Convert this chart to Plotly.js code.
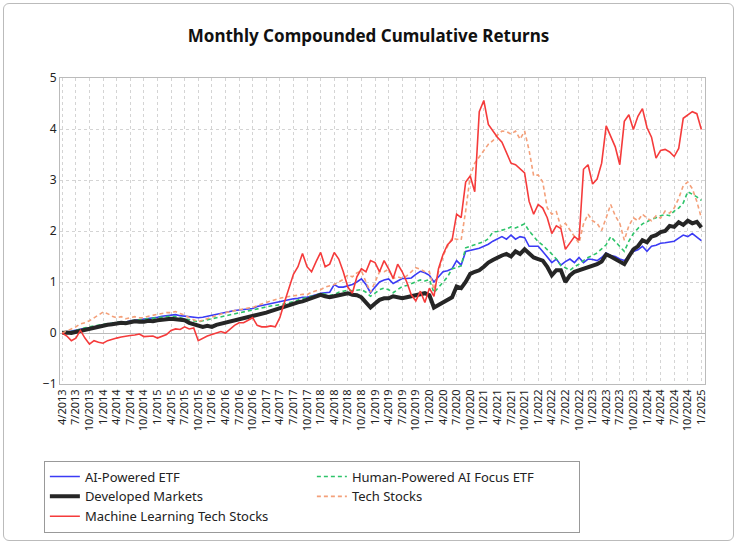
<!DOCTYPE html>
<html><head><meta charset="utf-8">
<script src="https://cdn.plot.ly/plotly-3.0.1.min.js"></script>
<style>body{margin:0;background:#fff}#c{width:737px;height:544px}
#f{position:absolute;left:3px;top:3px;width:729px;height:536px;border:1px solid #bbb;border-radius:6px;pointer-events:none}</style>
</head><body><div id="c"></div><div id="f"></div>
<script>
const startMonth = 4, startYear = 2013, nMonths = 142;
const months = [];
for (let i = 0; i < nMonths; i++) { const m = (startMonth - 1 + i) % 12 + 1; const y = startYear + Math.floor((startMonth - 1 + i) / 12); months.push(m + "/" + y); }
const tickLabels = months.filter((_, i) => i % 3 === 0);

const aiPowered = [0,0.02,0.03,0.05,0.07,0.09,0.1,0.12,0.14,0.16,0.18,0.19,
0.2,0.22,0.21,0.24,0.25,0.26,0.27,0.28,0.3,0.31,0.33,0.34,
0.35,0.36,0.34,0.33,0.31,0.3,0.3,0.31,0.33,0.34,0.37,0.38,
0.4,0.42,0.44,0.45,0.46,0.47,0.48,0.52,0.54,0.56,0.58,0.6,
0.62,0.64,0.65,0.67,0.68,0.7,0.7,0.72,0.75,0.78,0.79,0.8,
0.95,0.9,0.9,0.92,0.95,1.0,1.06,0.95,0.79,0.9,1.0,1.04,
1.06,0.97,1.02,1.07,1.07,1.08,1.15,1.21,1.18,1.13,1.0,1.1,
1.2,1.22,1.26,1.42,1.33,1.6,1.62,1.64,1.66,1.7,1.74,1.8,
1.84,1.89,1.84,1.92,1.84,1.89,1.87,1.7,1.7,1.7,1.6,1.5,
1.38,1.45,1.33,1.4,1.45,1.38,1.48,1.38,1.45,1.44,1.42,1.48,
1.57,1.52,1.5,1.45,1.42,1.5,1.6,1.63,1.7,1.6,1.7,1.72,
1.76,1.77,1.79,1.8,1.86,1.92,1.89,1.95,1.88,1.81];
const humanAI = [0,0.01,0.03,0.05,0.08,0.1,0.12,0.14,0.16,0.17,0.18,0.19,
0.2,0.22,0.21,0.24,0.25,0.26,0.27,0.28,0.29,0.3,0.31,0.32,
0.33,0.32,0.3,0.28,0.25,0.23,0.22,0.24,0.26,0.28,0.3,0.31,
0.33,0.35,0.37,0.39,0.41,0.43,0.45,0.47,0.49,0.51,0.53,0.54,
0.55,0.57,0.59,0.62,0.65,0.68,0.7,0.72,0.74,0.78,0.76,0.74,
0.75,0.8,0.82,0.84,0.83,0.84,0.85,0.8,0.72,0.78,0.85,0.88,
0.85,0.79,0.85,0.91,0.93,0.97,1.0,1.04,1.02,1.05,0.79,0.9,
1.0,1.1,1.26,1.28,1.32,1.67,1.7,1.73,1.75,1.79,1.85,1.98,
1.99,2.01,2.04,2.08,2.06,2.1,2.14,2.0,1.9,1.79,1.72,1.64,
1.55,1.45,1.32,1.28,1.23,1.3,1.35,1.42,1.48,1.52,1.57,1.65,
1.73,1.89,1.8,1.7,1.6,1.8,1.95,2.05,2.14,2.18,2.23,2.26,
2.3,2.32,2.3,2.39,2.45,2.55,2.77,2.72,2.67,2.6];
const developed = [0,0.01,0.0,0.02,0.05,0.08,0.1,0.12,0.14,0.15,0.16,0.17,
0.18,0.2,0.19,0.22,0.23,0.22,0.22,0.24,0.23,0.25,0.26,0.27,
0.28,0.27,0.26,0.25,0.2,0.17,0.15,0.12,0.14,0.12,0.16,0.18,
0.2,0.22,0.25,0.27,0.29,0.3,0.32,0.35,0.37,0.4,0.43,0.46,
0.5,0.52,0.55,0.58,0.6,0.62,0.65,0.67,0.7,0.75,0.72,0.7,
0.72,0.74,0.76,0.78,0.75,0.74,0.7,0.6,0.5,0.58,0.65,0.68,
0.68,0.72,0.7,0.68,0.7,0.72,0.74,0.75,0.78,0.74,0.5,0.55,
0.6,0.65,0.7,0.91,0.88,1.0,1.16,1.2,1.23,1.3,1.38,1.43,
1.48,1.52,1.55,1.5,1.6,1.55,1.64,1.56,1.48,1.45,1.42,1.3,
1.13,1.23,1.23,1.0,1.13,1.2,1.23,1.25,1.29,1.3,1.35,1.4,
1.54,1.5,1.45,1.4,1.35,1.5,1.64,1.7,1.82,1.78,1.89,1.92,
1.98,2.0,2.1,2.08,2.17,2.12,2.2,2.15,2.18,2.07];
const techStocks = [0,0.04,0.08,0.12,0.18,0.2,0.24,0.3,0.35,0.41,0.38,0.33,
0.3,0.32,0.28,0.3,0.32,0.3,0.3,0.33,0.35,0.37,0.38,0.4,
0.4,0.42,0.38,0.35,0.3,0.26,0.22,0.25,0.28,0.32,0.35,0.38,
0.4,0.42,0.44,0.45,0.47,0.49,0.5,0.54,0.57,0.6,0.63,0.66,
0.68,0.7,0.72,0.73,0.74,0.76,0.75,0.8,0.83,0.85,0.9,0.92,
0.95,1.0,1.05,1.14,1.1,1.18,1.22,1.0,0.8,1.0,1.2,1.2,
1.25,1.07,1.1,1.07,1.12,1.2,1.28,1.25,1.2,1.2,0.85,1.2,
1.51,1.7,1.86,1.84,1.82,2.39,3.08,3.33,3.45,3.58,3.7,3.77,
3.88,3.96,3.95,3.9,3.96,3.8,3.96,3.58,3.08,3.1,2.96,2.45,
2.33,2.38,2.08,2.15,2.01,1.89,1.76,2.14,2.33,2.2,2.15,2.01,
2.26,2.52,2.3,2.15,1.82,2.1,2.26,2.2,2.33,2.25,2.2,2.3,
2.25,2.39,2.35,2.45,2.64,2.89,2.96,2.83,2.58,2.25];
const mlTech = [0,-0.06,-0.15,-0.1,0.05,-0.1,-0.22,-0.15,-0.18,-0.2,-0.15,-0.12,
-0.1,-0.08,-0.06,-0.05,-0.04,-0.02,-0.07,-0.07,-0.06,-0.1,-0.07,-0.03,
0.05,0.08,0.07,0.12,0.08,0.1,-0.15,-0.1,-0.06,-0.03,0.0,0.03,
0.0,0.08,0.15,0.2,0.2,0.25,0.3,0.15,0.12,0.12,0.14,0.12,
0.3,0.6,0.9,1.15,1.3,1.56,1.3,1.2,1.4,1.58,1.3,1.35,
1.58,1.45,1.2,0.9,0.78,1.1,1.26,1.2,1.42,1.38,1.2,1.42,
1.26,1.07,1.35,1.2,1.0,0.75,0.63,0.82,0.6,0.88,0.72,1.26,
1.54,1.73,1.82,2.33,2.26,2.96,3.08,2.77,4.34,4.56,4.09,3.96,
3.84,3.74,3.55,3.33,3.3,3.21,3.14,2.58,2.33,2.52,2.45,2.26,
1.95,2.1,2.05,1.64,1.76,1.89,1.82,3.21,3.3,2.92,3.02,3.33,
4.06,3.84,3.65,3.3,4.15,4.28,3.99,4.25,4.4,4.03,3.84,3.43,
3.58,3.6,3.55,3.46,3.62,4.21,4.28,4.34,4.3,3.99];

const mk = (name, y, color, width, dash) => ({type:'scatter', mode:'lines', name, x:months, y, line:{color, width, dash}});
const data = [
  mk('AI-Powered ETF', aiPowered, '#3B3BF5', 1.6, 'solid'),
  mk('Human-Powered AI Focus ETF', humanAI, '#2EC46A', 1.6, '4px,3px'),
  mk('Developed Markets', developed, '#262626', 4, 'solid'),
  mk('Tech Stocks', techStocks, '#F4A07A', 1.6, '4px,3px'),
  mk('Machine Learning Tech Stocks', mlTech, '#F53B3B', 1.6, 'solid')
];
const layout = {
  width:737, height:544, paper_bgcolor:'#fff', plot_bgcolor:'#fff',
  font:{family:'Noto Sans, sans-serif', size:12, color:'#222'},
  title:{text:'<b>Monthly Compounded Cumulative Returns</b>', x:0.5, xanchor:'center', y:0.945, font:{size:17, color:'#111'}},
  margin:{l:60, r:32, t:78, b:149},
  xaxis:{type:'category', automargin:false, tickmode:'array', tickvals:tickLabels, ticktext:tickLabels, tickangle:-90,
    showgrid:true, gridcolor:'#d4d4d4', griddash:'dot', showline:true, linecolor:'#bbb', mirror:true,
    tickfont:{size:11}, range:[-0.5, nMonths-0.2]},
  yaxis:{automargin:false, range:[-1,5], dtick:1, showgrid:true, gridcolor:'#d4d4d4', griddash:'dot', zeroline:true, zerolinecolor:'#bbb', zerolinewidth:1,
    showline:true, linecolor:'#bbb', mirror:true, tickfont:{size:12}},
  legend:{orientation:'h', x:-0.025, xanchor:'left', y:-0.25, yanchor:'top', bordercolor:'#999', borderwidth:1,
    entrywidth:222, entrywidthmode:'pixels', font:{size:13}, traceorder:'normal'},
  showlegend:true
};
Plotly.newPlot('c', data, layout, {displayModeBar:false, staticPlot:true});
</script></body></html>
